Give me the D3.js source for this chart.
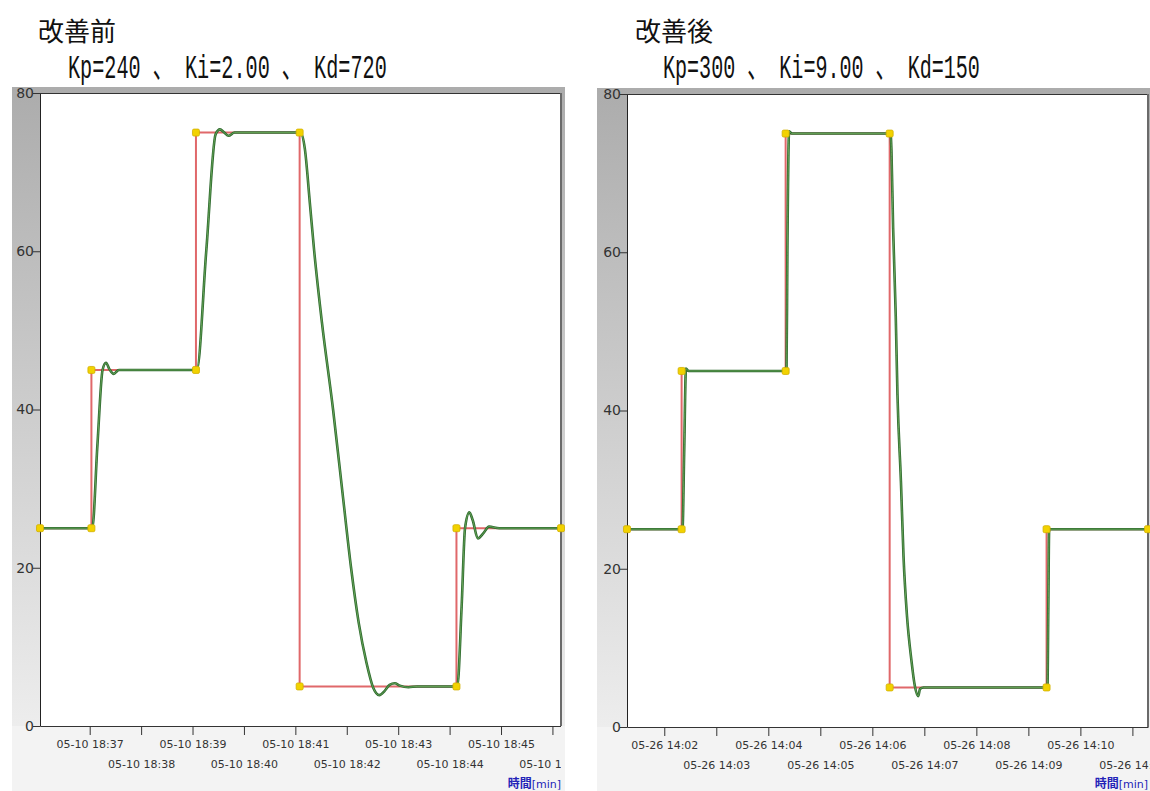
<!DOCTYPE html>
<html>
<head>
<meta charset="utf-8">
<script src="https://cdn.jsdelivr.net/npm/d3@7"></script>
<style>
  body { margin: 0; background: #fff; }
  svg { display: block; }
</style>
</head>
<body>
<div id="viz"></div>
<script>
// size of the page
let w = 1150;
let h = 791;

// DATA
// setpoint (red step line), corners of the steps
let leftSetpoint = [
  ["05-10 18:36:02", 25], ["05-10 18:37:02", 25], ["05-10 18:37:02", 45],
  ["05-10 18:39:04", 45], ["05-10 18:39:04", 75], ["05-10 18:41:05", 75],
  ["05-10 18:41:05", 5], ["05-10 18:44:08", 5], ["05-10 18:44:08", 25],
  ["05-10 18:46:10", 25]
];
// measured value (green line)
let leftMeasured = [
  ["05-10 18:36:02", 25.0], ["05-10 18:37:03", 25.0], ["05-10 18:37:09", 35.5],
  ["05-10 18:37:15", 45.0], ["05-10 18:37:19", 45.9], ["05-10 18:37:23", 45.1],
  ["05-10 18:37:28", 44.5], ["05-10 18:37:34", 45.0], ["05-10 18:39:05", 45.0],
  ["05-10 18:39:16", 60.0], ["05-10 18:39:27", 74.8], ["05-10 18:39:32", 75.4],
  ["05-10 18:39:37", 75.0], ["05-10 18:39:42", 74.6], ["05-10 18:39:49", 75.0],
  ["05-10 18:41:06", 75.0], ["05-10 18:41:11", 73.0], ["05-10 18:41:17", 66.0],
  ["05-10 18:41:22", 60.0], ["05-10 18:41:31", 51.0], ["05-10 18:41:44", 40.0],
  ["05-10 18:41:55", 29.5], ["05-10 18:42:05", 20.0], ["05-10 18:42:14", 13.0],
  ["05-10 18:42:23", 8.0], ["05-10 18:42:31", 4.8], ["05-10 18:42:38", 3.9],
  ["05-10 18:42:44", 4.4], ["05-10 18:42:50", 5.2], ["05-10 18:42:56", 5.4],
  ["05-10 18:43:02", 5.1], ["05-10 18:43:12", 4.9], ["05-10 18:43:22", 5.0],
  ["05-10 18:44:09", 5.0], ["05-10 18:44:14", 15.0], ["05-10 18:44:18", 25.0],
  ["05-10 18:44:23", 27.0], ["05-10 18:44:27", 26.0], ["05-10 18:44:33", 23.7],
  ["05-10 18:44:39", 24.3], ["05-10 18:44:46", 25.2], ["05-10 18:44:58", 25.0],
  ["05-10 18:46:10", 25.0]
];

let rightSetpoint = [
  ["05-26 14:01:17", 25], ["05-26 14:02:20", 25], ["05-26 14:02:20", 45],
  ["05-26 14:04:20", 45], ["05-26 14:04:20", 75], ["05-26 14:06:20", 75],
  ["05-26 14:06:20", 5], ["05-26 14:09:21", 5], ["05-26 14:09:21", 25],
  ["05-26 14:11:18", 25]
];
let rightMeasured = [
  ["05-26 14:01:17", 25.0], ["05-26 14:02:21", 25.0], ["05-26 14:02:23", 35.0],
  ["05-26 14:02:25", 45.3], ["05-26 14:02:28", 45.0], ["05-26 14:04:21", 45.0],
  ["05-26 14:04:22", 60.0], ["05-26 14:04:24", 75.3], ["05-26 14:04:27", 75.0],
  ["05-26 14:06:21", 75.0], ["05-26 14:06:22", 73.0], ["05-26 14:06:24", 63.0],
  ["05-26 14:06:27", 52.0], ["05-26 14:06:29", 42.0], ["05-26 14:06:33", 31.0],
  ["05-26 14:06:36", 21.5], ["05-26 14:06:40", 14.0], ["05-26 14:06:45", 8.5],
  ["05-26 14:06:49", 5.2], ["05-26 14:06:53", 3.9], ["05-26 14:06:55", 4.8],
  ["05-26 14:06:59", 5.0], ["05-26 14:09:22", 5.0], ["05-26 14:09:23", 15.0],
  ["05-26 14:09:24", 25.0], ["05-26 14:11:18", 25.0]
];

let yTicks = [0, 20, 40, 60, 80];
let leftTitle = "改善前";
let leftGains = "Kp=240 、 Ki=2.00 、 Kd=720";
let rightTitle = "改善後";
let rightGains = "Kp=300 、 Ki=9.00 、 Kd=150";
let axisName = "時間";
let axisUnit = "[min]";

// put the svg onto the page:
let viz = d3.select("#viz")
  .append("svg")
    .attr("width", w)
    .attr("height", h)
;

let parseTime = d3.timeParse("%m-%d %H:%M:%S");
let formatTick = d3.timeFormat("%m-%d %H:%M");

let defs = viz.append("defs");
let grad = defs.append("linearGradient")
  .attr("id", "sideGrad")
  .attr("x1", 0).attr("y1", 0).attr("x2", 0).attr("y2", 1);
grad.append("stop").attr("offset", "0%").attr("stop-color", "#acacac");
grad.append("stop").attr("offset", "100%").attr("stop-color", "#ededed");

function drawPanel(cfg, setpoint, measured, title, gains) {
  let sp = setpoint.map(function(d){ return {t: parseTime(d[0]), v: d[1]}; });
  let pv = measured.map(function(d){ return {t: parseTime(d[0]), v: d[1]}; });

  let clipId = "clip" + cfg.id;
  defs.append("clipPath").attr("id", clipId)
    .append("rect")
      .attr("x", cfg.panelLeft).attr("y", 0)
      .attr("width", cfg.panelRight - cfg.panelLeft).attr("height", h);
  // tick labels are cut where the chart control ends
  defs.append("clipPath").attr("id", clipId + "lab")
    .append("rect")
      .attr("x", cfg.panelLeft).attr("y", 0)
      .attr("width", cfg.labelRight - cfg.panelLeft).attr("height", h);

  let g = viz.append("g").attr("clip-path", "url(#" + clipId + ")");

  // panel backgrounds
  g.append("rect")
    .attr("x", cfg.panelLeft).attr("y", cfg.panelTop)
    .attr("width", cfg.panelRight - cfg.panelLeft).attr("height", cfg.bottom - cfg.panelTop)
    .attr("fill", "url(#sideGrad)");
  g.append("rect")
    .attr("x", cfg.panelLeft).attr("y", cfg.bottom)
    .attr("width", cfg.panelRight - cfg.panelLeft).attr("height", h - cfg.bottom)
    .attr("fill", "#f3f3f3");
  g.append("rect")
    .attr("x", cfg.left).attr("y", cfg.top)
    .attr("width", cfg.right - cfg.left).attr("height", cfg.bottom - cfg.top)
    .attr("fill", "#ffffff");

  // SCALES
  let xScale = d3.scaleTime()
    .domain([sp[0].t, sp[sp.length - 1].t])
    .range([cfg.left, cfg.right]);
  let yScale = d3.scaleLinear().domain([0, 80]).range([cfg.bottom, cfg.top]);

  // axes
  let minutes = d3.timeMinute.range(xScale.domain()[0], xScale.domain()[1]);
  let xAxis = d3.axisBottom(xScale)
    .tickValues(minutes)
    .tickFormat(formatTick)
    .tickSize(9)
    .tickSizeOuter(0);
  let xg = g.append("g")
    .attr("clip-path", "url(#" + clipId + "lab)")
    .append("g")
    .attr("transform", "translate(0," + cfg.bottom + ")")
    .call(xAxis);
  xg.select(".domain").attr("stroke", "#333");
  xg.selectAll(".tick line").attr("stroke", "#333");
  xg.selectAll(".tick text")
    .attr("font-family", "DejaVu Sans, Verdana, sans-serif")
    .attr("font-size", 11)
    .attr("fill", "#333")
    .attr("dy", null)
    .attr("y", function(d, i){ return i % 2 == 0 ? 22 : 42; });

  let yAxis = d3.axisLeft(yScale).tickValues(yTicks).tickSize(7).tickSizeOuter(0);
  let yg = g.append("g")
    .attr("transform", "translate(" + cfg.left + ",0)")
    .call(yAxis);
  yg.select(".domain").attr("stroke", "#222");
  yg.selectAll(".tick line").attr("stroke", "#333");
  yg.selectAll(".tick text")
    .attr("font-family", "DejaVu Sans, Verdana, sans-serif")
    .attr("font-size", 14)
    .attr("fill", "#333")
    .attr("x", -6);

  // top and right borders of the plot
  g.append("line")
    .attr("x1", cfg.left).attr("x2", cfg.right)
    .attr("y1", cfg.top + 0.5).attr("y2", cfg.top + 0.5)
    .attr("stroke", "#333");
  g.append("line")
    .attr("x1", cfg.right).attr("x2", cfg.right)
    .attr("y1", cfg.top).attr("y2", cfg.bottom)
    .attr("stroke", "#6a6a6a").attr("stroke-width", 2);

  // setpoint line
  let spLine = d3.line()
    .x(function(d){ return xScale(d.t); })
    .y(function(d){ return yScale(d.v); });
  g.append("path")
    .attr("d", spLine(sp))
    .attr("fill", "none")
    .attr("stroke", "#e0686a")
    .attr("stroke-width", 2);

  // measured line (dark outline with lighter centre)
  let pvLine = d3.line()
    .x(function(d){ return xScale(d.t); })
    .y(function(d){ return yScale(d.v); })
    .curve(d3.curveMonotoneX);
  g.append("path")
    .attr("d", pvLine(pv))
    .attr("fill", "none")
    .attr("stroke", "#2e6a2e")
    .attr("stroke-width", 2.6);
  g.append("path")
    .attr("d", pvLine(pv))
    .attr("fill", "none")
    .attr("stroke", "#6aa85a")
    .attr("stroke-width", 0.9);

  // yellow markers at the setpoint corners
  g.selectAll(".dot").data(sp).enter()
    .append("rect")
      .attr("class", "dot")
      .attr("x", function(d){ return xScale(d.t) - 3.5; })
      .attr("y", function(d){ return yScale(d.v) - 3.5; })
      .attr("width", 7).attr("height", 7)
      .attr("rx", 1.5)
      .attr("fill", "#f2d200")
      .attr("stroke", "#d2b000")
      .attr("stroke-width", 0.8);

  // axis name
  let an = g.append("text")
    .attr("x", cfg.right)
    .attr("y", 788)
    .attr("text-anchor", "end")
    .attr("font-size", 12)
    .attr("fill", "#2323b8");
  an.append("tspan")
    .attr("font-family", "Noto Sans CJK JP")
    .attr("font-weight", "bold")
    .text(axisName);
  an.append("tspan")
    .attr("font-family", "DejaVu Sans, sans-serif")
    .attr("font-size", 11)
    .text(axisUnit);

  // titles
  viz.append("text")
    .attr("x", cfg.titleX)
    .attr("y", 41)
    .attr("font-family", "Noto Sans CJK JP")
    .attr("font-size", 26)
    .attr("fill", "#111")
    .text(title);

  // gains line: tall narrow glyphs, squeezed horizontally to the measured width
  let gt = viz.append("text")
    .attr("x", 0)
    .attr("y", 0)
    .attr("font-family", "Liberation Mono, Noto Sans CJK JP")
    .attr("font-size", 34)
    .attr("fill", "#111")
    .text(gains);
  let natural = gt.node().getComputedTextLength();
  gt.attr("transform", "translate(" + cfg.gainsX + ",78) scale(" + (cfg.gainsW / natural) + ",1)");
}

drawPanel({
  id: "L", panelLeft: 12, panelRight: 565, labelRight: 561, panelTop: 87,
  left: 40, right: 561, top: 93, bottom: 726,
  titleX: 38, gainsX: 68, gainsW: 319
}, leftSetpoint, leftMeasured, leftTitle, leftGains);

drawPanel({
  id: "R", panelLeft: 597, panelRight: 1150, labelRight: 1150, panelTop: 88,
  left: 627, right: 1148, top: 94, bottom: 727,
  titleX: 635, gainsX: 663, gainsW: 317
}, rightSetpoint, rightMeasured, rightTitle, rightGains);
</script>
</body>
</html>
